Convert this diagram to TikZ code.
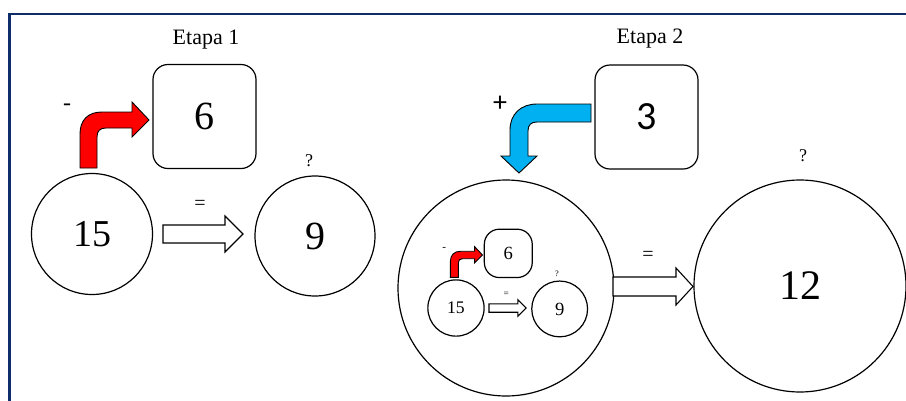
\documentclass[tikz,border=0pt]{standalone}
\usepackage{fontspec}
\setmainfont{Liberation Serif}
\newfontfamily\numsans{Carlito}
\definecolor{framenavy}{HTML}{0F2D6B}
\definecolor{arrowred}{HTML}{FF0000}
\definecolor{arrowblue}{HTML}{00B0F0}
\tikzset{
  numcirc/.style={draw, circle, line width=1.2pt, inner sep=0pt},
  numbox/.style={draw, rounded corners=15pt, line width=1.2pt, inner sep=0pt,
    minimum width=103pt, minimum height=104pt},
  hollow/.style={draw, fill=white, line width=1.1pt, line join=miter},
  bent/.style={draw, line width=0.9pt, line join=miter},
  txt/.style={inner sep=0pt},
  stage/.pic={
    \node[numbox, font=\fontsize{40}{40}\selectfont] (-box) at (204.5,116.5) {6};
    \node[numcirc, minimum size=121pt, font=\fontsize{38}{38}\selectfont] (-a) at (92,234) {15};
    \node[numcirc, minimum size=120pt, font=\fontsize{40}{40}\selectfont] (-b) at (315,236) {9};
    \node[txt, font=\fontsize{18}{18}\selectfont] (-q) at (309,161) {?};
    \node[txt, font=\fontsize{20}{20}\selectfont] (-eq) at (200,205) {=};
    \node[txt, font=\fontsize{24}{24}\selectfont] (-op) at (67,107) {-};
    \draw[hollow] (163,225) -- (225,225) -- (225,216) -- (243,234) -- (225,252)
      -- (225,243) -- (163,243) -- cycle;
    \draw[bent, fill=arrowred] (80,168) -- (80,134) .. controls (80,120) and (88,112) .. (102,112)
      -- (132,112) -- (132,102) -- (149,120) -- (132,137) -- (132,128) -- (106,128)
      .. controls (100,128) and (97,131) .. (97,137) -- (97,168) -- cycle;
  }
}
\begin{document}
\begin{tikzpicture}[x=1pt, y=-1pt]
  \useasboundingbox (0,0) rectangle (906,400);
  \draw[framenavy, line width=2.2pt] (9.5,402) -- (9.5,14) -- (908,14);

  % Stage 1
  \node[txt, font=\fontsize{22}{22}\selectfont] (et1) at (206,40) {Etapa 1};
  \pic (s1) at (0,0) {stage};

  % Stage 2
  \node[txt, font=\fontsize{22}{22}\selectfont] (et2) at (650,39) {Etapa 2};
  \node[numbox, font=\numsans\fontsize{40}{40}\selectfont] (box3) at (646.5,117) {3};
  \node[numcirc, minimum size=216pt] (big) at (506,288) {};
  \pic[scale=0.465, transform shape] (m) at (413.2,199.2) {stage};
  \node[numcirc, minimum size=212pt, font=\fontsize{42}{42}\selectfont] (c12) at (800,286) {12};
  \node[txt, font=\fontsize{18}{18}\selectfont] (q2) at (803,156) {?};
  \node[txt, font=\fontsize{20}{20}\selectfont] (eq2) at (648,256) {=};
  \node[txt, font=\numsans\fontsize{28}{28}\selectfont] (plus) at (500,104) {+};
  \draw[hollow] (613,277) -- (676,277) -- (676,268) -- (693,286.5) -- (676,305)
    -- (676,296) -- (613,296) -- cycle;
  \draw[bent, fill=arrowblue] (591,104) -- (537,104) .. controls (521,104) and (510,114) .. (510,130)
    -- (510,156) -- (501,156) -- (519,173) -- (537,156) -- (528,156) -- (528,131)
    .. controls (528,125) and (531,122) .. (537,122) -- (591,122) -- cycle;
\end{tikzpicture}
\end{document}
